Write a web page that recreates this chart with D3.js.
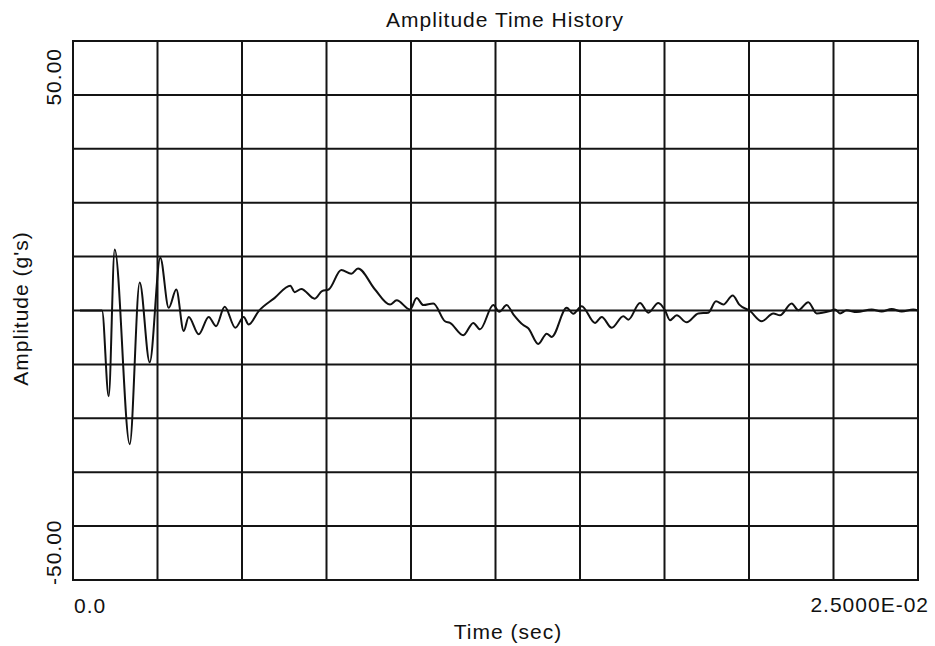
<!DOCTYPE html>
<html>
<head>
<meta charset="utf-8">
<script src="https://cdn.jsdelivr.net/npm/d3@7"></script>
<style>
  html, body { margin: 0; padding: 0; background: #fff; }
  svg { display: block; }
  text { font-family: "Liberation Sans", Arial, sans-serif; fill: #111; }
</style>
</head>
<body>
<svg id="chart" width="935" height="646"></svg>
<script>
// ---- data (time in milliseconds, amplitude in g's) ----
const timeMs = [0.207, 0.710, 0.858, 1.056, 1.234, 1.678, 1.973, 2.269, 2.583, 2.831,
  3.056, 3.275, 3.423, 3.719, 4.015, 4.231, 4.488, 4.802, 5.050, 5.198,
  5.494, 5.960, 6.429, 6.559, 6.754, 7.151, 7.367, 7.565, 7.938, 8.234, 8.432,
  8.935, 9.379, 9.577, 9.970, 10.169, 10.364, 10.660, 11.006, 11.154, 11.547,
  11.843, 12.041, 12.435, 12.612, 12.831, 13.027, 13.322, 13.470, 13.766, 14.015,
  14.163, 14.607, 14.802, 15.050, 15.444, 15.642, 15.938, 16.281, 16.429, 16.775,
  17.021, 17.317, 17.515, 17.663, 17.861, 18.157, 18.500, 18.796, 19.024, 19.240,
  19.518, 19.713, 20.030, 20.376, 20.719, 20.917, 21.263, 21.459, 21.754, 22.003,
  22.396, 22.544, 22.692, 22.890, 23.186, 23.630, 23.926, 24.222, 24.518, 24.861, 25.000];
const amplitude = [0, 0, 0, -15.9, 11.3, -24.8, 5.2, -9.6, 9.8, 0.5,
  3.9, -3.8, -1.2, -4.4, -1.2, -2.9, 0.7, -3.2, -1.2, -2.6,
  -0.1, 2.3, 4.6, 3.4, 4.0, 2.2, 3.6, 3.9, 7.5, 6.8, 7.8,
  3.9, 1.1, 1.9, 0.2, 2.3, 1.0, 1.3, -2.0, -2.3, -4.6,
  -2.3, -3.5, 1.0, -0.25, 1.0, -0.7, -2.7, -3.3, -6.2, -4.3,
  -4.9, 0.5, -0.6, 0.8, -2.3, -1.2, -3.2, -1.05, -1.7, 1.4,
  -0.4, 1.4, 0.05, -1.8, -0.9, -2.2, -0.55, -0.4, 1.7, 1.1,
  2.8, 1.1, -0.1, -2.0, -0.55, -0.9, 1.3, 0.05, 1.55, -0.55,
  -0.1, 0.2, -0.55, 0.05, -0.3, 0.2, -0.2, 0.3, -0.2, 0.2, 0];
const xDomainMs = [0, 25];
const yDomain = [-50, 50];
const xTickLabels = ["0.0", "2.5000E-02"];
const yTickLabels = ["-50.00", "50.00"];
const titleText = "Amplitude Time History";
const xTitle = "Time (sec)";
const yTitle = "Amplitude (g's)";

// ---- layout ----
const L = 73, R = 918, T = 41, B = 580;
const svg = d3.select("#chart");
const x = d3.scaleLinear().domain(xDomainMs).range([L, R]);
const y = d3.scaleLinear().domain(yDomain).range([B, T]);

const gridColor = "#141414";
const xGrid = d3.range(1, 10).map(i => xDomainMs[0] + i * (xDomainMs[1] - xDomainMs[0]) / 10);
const yGrid = d3.range(1, 10).map(i => yDomain[0] + i * (yDomain[1] - yDomain[0]) / 10);

svg.append("g").selectAll("line.v").data(xGrid).join("line")
  .attr("x1", d => x(d)).attr("x2", d => x(d))
  .attr("y1", T).attr("y2", B)
  .attr("stroke", gridColor).attr("stroke-width", 2);
svg.append("g").selectAll("line.h").data(yGrid).join("line")
  .attr("x1", L).attr("x2", R)
  .attr("y1", d => y(d)).attr("y2", d => y(d))
  .attr("stroke", gridColor).attr("stroke-width", 2);

svg.append("rect")
  .attr("x", L).attr("y", T).attr("width", R - L).attr("height", B - T)
  .attr("fill", "none").attr("stroke", gridColor).attr("stroke-width", 2);

// ---- series ----
const pts = timeMs.map((t, i) => [t, amplitude[i]]);
const line = d3.line().x(d => x(d[0])).y(d => y(d[1])).curve(d3.curveMonotoneX);
svg.append("path").datum(pts)
  .attr("d", line)
  .attr("fill", "none").attr("stroke", "#111").attr("stroke-width", 2)
  .attr("stroke-linejoin", "round");

// ---- texts ----
const fs = 21;
const ls = "1px";
svg.append("text").attr("x", 505).attr("y", 27)
  .attr("text-anchor", "middle").attr("font-size", fs).style("letter-spacing", ls)
  .text(titleText);

svg.append("text").attr("x", x(xDomainMs[0]) + 1).attr("y", 613)
  .attr("text-anchor", "start").attr("font-size", fs).style("letter-spacing", ls)
  .text(xTickLabels[0]);
svg.append("text").attr("x", x(xDomainMs[1]) + 11).attr("y", 612)
  .attr("text-anchor", "end").attr("font-size", fs).style("letter-spacing", ls)
  .text(xTickLabels[1]);

svg.append("text").attr("x", 508).attr("y", 639)
  .attr("text-anchor", "middle").attr("font-size", fs).style("letter-spacing", ls)
  .text(xTitle);

// y tick labels (rotated)
svg.append("text")
  .attr("transform", `translate(61,${y(yDomain[1]) + 7}) rotate(-90)`)
  .attr("text-anchor", "end").attr("font-size", fs).style("letter-spacing", ls)
  .text(yTickLabels[1]);
svg.append("text")
  .attr("transform", `translate(61,${y(yDomain[0]) + 5}) rotate(-90)`)
  .attr("text-anchor", "start").attr("font-size", fs).style("letter-spacing", ls)
  .text(yTickLabels[0]);

svg.append("text")
  .attr("transform", `translate(28,${(T + B) / 2 - 2}) rotate(-90)`)
  .attr("text-anchor", "middle").attr("font-size", fs).style("letter-spacing", ls)
  .text(yTitle);
</script>
</body>
</html>
